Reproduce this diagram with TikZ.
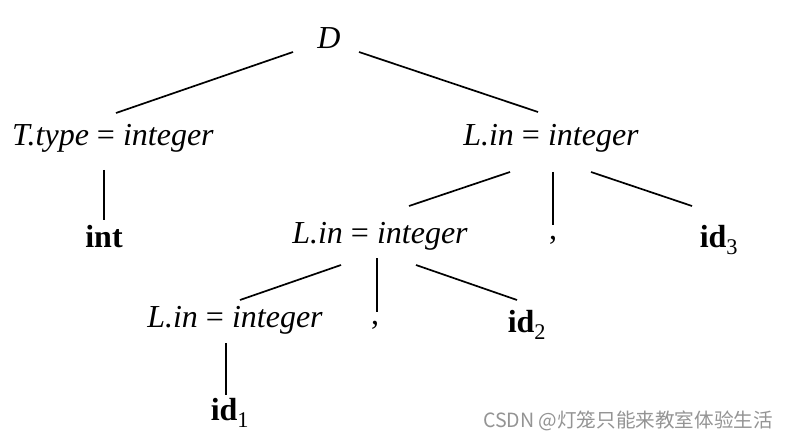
\documentclass[tikz,border=0pt]{standalone}
\usepackage{fontspec}
\setmainfont{Liberation Serif}
\newfontfamily\cjk{Noto Sans CJK SC}
\usetikzlibrary{calc}
\tikzset{
  lab/.style={inner sep=0pt, font=\fontsize{32}{35}\selectfont},
  edge/.style={line width=1.7pt, black},
  wm/.style={inner sep=0pt, text=black!42, font=\cjk\fontsize{19.6}{22}\selectfont}
}
\newcommand{\eqattr}[2]{\textit{#1} = \textit{#2}}
\begin{document}
\begin{tikzpicture}[x=1pt,y=-1pt]
\useasboundingbox[fill=white] (0,0) rectangle (788,441);
\node[lab] (D) at (329,38) {\textit{D}};
\node[lab] (T) at (113,138) {\eqattr{T.type}{integer}};
\node[lab] (L1) at (551,138) {\eqattr{L.in}{integer}};
\node[lab] (int) at (104,237) {\textbf{int}};
\node[lab] (L2) at (380,236) {\eqattr{L.in}{integer}};
\node[lab] (c1) at (553,240) {,};
\node[lab] (id3) at (719,240) {\textbf{id}$_{\mathrm{3}}$};
\node[lab] (L3) at (235,320) {\eqattr{L.in}{integer}};
\node[lab] (c2) at (375,325) {,};
\node[lab] (id2) at (527,325) {\textbf{id}$_{\mathrm{2}}$};
\node[lab] (id1) at (230,413) {\textbf{id}$_{\mathrm{1}}$};
\node[wm] (w) at (628,421) {CSDN @灯笼只能来教室体验生活};
\draw[edge] ($(D)+(-36,14)$) -- ($(T)+(3,-25)$);
\draw[edge] ($(D)+(30,14)$) -- ($(L1)+(-13,-26)$);
\draw[edge] ($(T)+(-9,32)$) -- ($(int)+(0,-17)$);
\draw[edge] ($(L1)+(-41,34)$) -- ($(L2)+(29,-30)$);
\draw[edge] ($(L1)+(2,34)$) -- ($(c1)+(0,-15)$);
\draw[edge] ($(L1)+(40,34)$) -- ($(id3)+(-27,-34)$);
\draw[edge] ($(L2)+(-39,29)$) -- ($(L3)+(5,-20)$);
\draw[edge] ($(L2)+(-3,22)$) -- ($(c2)+(2,-13)$);
\draw[edge] ($(L2)+(36,29)$) -- ($(id2)+(-10,-25)$);
\draw[edge] ($(L3)+(-9,23)$) -- ($(id1)+(-4,-18)$);
\end{tikzpicture}
\end{document}
